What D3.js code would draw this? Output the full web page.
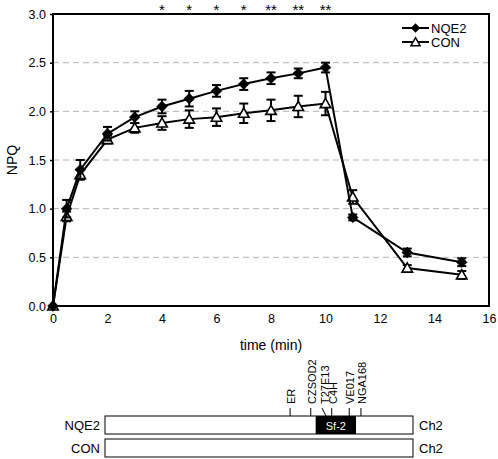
<!DOCTYPE html>
<html><head><meta charset="utf-8">
<script src="https://cdn.jsdelivr.net/npm/d3@7"></script>
<style>body{margin:0;background:#fff}svg{display:block;font-family:"Liberation Sans",Arial,sans-serif}</style>
</head><body><svg id="c" width="498" height="459"></svg>
<script>
const times = [0, 0.5, 1, 2, 3, 4, 5, 6, 7, 8, 9, 10, 11, 13, 15];
const nqe2 = [0, 1.00, 1.40, 1.77, 1.94, 2.05, 2.13, 2.21, 2.28, 2.34, 2.39, 2.45, 0.91, 0.55, 0.45];
const nqe2Err = [0, 0.09, 0.10, 0.07, 0.06, 0.07, 0.08, 0.06, 0.06, 0.06, 0.05, 0.05, 0.03, 0.04, 0.04];
const con = [0, 0.92, 1.35, 1.71, 1.83, 1.88, 1.92, 1.94, 1.98, 2.01, 2.05, 2.08, 1.12, 0.39, 0.32];
const conErr = [0, 0.05, 0.05, 0.04, 0.05, 0.07, 0.09, 0.09, 0.10, 0.11, 0.11, 0.12, 0.07, 0.03, 0.04];
const xTicks = [0, 2, 4, 6, 8, 10, 12, 14, 16];
const yTicks = [0, 0.5, 1.0, 1.5, 2.0, 2.5, 3.0];
const sigTimes = [4, 5, 6, 7, 8, 9, 10];
const sigLabels = ["*", "*", "*", "*", "**", "**", "**"];
const markerNames = ["ER", "CZSOD2", "T27E13", "C4H", "VE017", "NGA168"];
const markerPos = [0.601, 0.668, 0.711, 0.736, 0.793, 0.831]; // fraction along chromosome
const sfRegion = [0.684, 0.815];

const svg = d3.select("#c");
const L = 53, R = 489, T = 14, B = 306;
const x = d3.scaleLinear().domain([0, 16]).range([L, R]);
const y = d3.scaleLinear().domain([0, 3]).range([B, T]);

// gridlines
svg.append("g").selectAll("line").data(yTicks.filter(d => d > 0 && d < 3)).join("line")
  .attr("x1", L).attr("x2", R).attr("y1", d => y(d)).attr("y2", d => y(d))
  .attr("stroke", "#b4b4b4").attr("stroke-width", 1).attr("stroke-dasharray", "6,4");

// axes
const xa = svg.append("g").attr("transform", `translate(0,${B})`)
  .call(d3.axisBottom(x).tickValues(xTicks).tickFormat(d3.format("d")).tickSize(0).tickPadding(8));
const ya = svg.append("g").attr("transform", `translate(${L},0)`)
  .call(d3.axisLeft(y).tickValues(yTicks).tickFormat(d3.format(".1f")).tickSize(3).tickPadding(4));
[xa, ya].forEach(a => {
  a.select(".domain").remove();
  a.selectAll("text").attr("font-size", 12.5).attr("fill", "#000").attr("font-family", "Liberation Sans, Arial, sans-serif");
  a.selectAll("line").attr("stroke", "#000").attr("stroke-width", 1.5);
});
svg.append("rect").attr("x", L).attr("y", T).attr("width", R - L).attr("height", B - T)
  .attr("fill", "none").attr("stroke", "#000").attr("stroke-width", 2);

svg.append("text").attr("x", (L + R) / 2).attr("y", 350).attr("text-anchor", "middle")
  .attr("font-size", 14).text("time (min)");
svg.append("text").attr("transform", `translate(17,${(T + B) / 2}) rotate(-90)`).attr("text-anchor", "middle")
  .attr("font-size", 14).text("NPQ");

// significance stars
svg.append("g").selectAll("text").data(sigTimes).join("text")
  .attr("x", d => x(d)).attr("y", 15).attr("text-anchor", "middle")
  .attr("font-size", 15).text((d, i) => sigLabels[i]);

const line = d3.line().x(d => x(d[0])).y(d => y(d[1]));
function series(vals, errs, kind) {
  const pts = times.map((t, i) => [t, vals[i], errs[i]]);
  const g = svg.append("g");
  g.append("path").datum(pts).attr("d", line).attr("fill", "none").attr("stroke", "#000").attr("stroke-width", 2);
  const eb = g.selectAll(".eb").data(pts.filter(p => p[2] > 0)).join("g");
  eb.append("line").attr("x1", d => x(d[0])).attr("x2", d => x(d[0]))
    .attr("y1", d => y(d[1] - d[2])).attr("y2", d => y(d[1] + d[2])).attr("stroke", "#000").attr("stroke-width", 2);
  [-1, 1].forEach(s => eb.append("line").attr("x1", d => x(d[0]) - 4.5).attr("x2", d => x(d[0]) + 4.5)
    .attr("y1", d => y(d[1] + s * d[2])).attr("y2", d => y(d[1] + s * d[2])).attr("stroke", "#000").attr("stroke-width", 2));
  const sym = kind === "d" ? d3.symbol(d3.symbolDiamond2, 75) : d3.symbol(d3.symbolTriangle, 48);
  g.selectAll(".m").data(pts).join("path")
    .attr("transform", d => `translate(${x(d[0])},${y(d[1]) + (kind === "d" ? 0 : 1)})`).attr("d", sym)
    .attr("fill", kind === "d" ? "#000" : "#fff").attr("stroke", "#000").attr("stroke-width", kind === "d" ? 0.5 : 1.6);
}
series(con, conErr, "t");
series(nqe2, nqe2Err, "d");

// legend
const leg = [["NQE2", "d"], ["CON", "t"]];
leg.forEach((l, i) => {
  const yy = 28 + i * 14;
  svg.append("line").attr("x1", 402).attr("x2", 429).attr("y1", yy).attr("y2", yy).attr("stroke", "#000").attr("stroke-width", 2);
  svg.append("path").attr("transform", `translate(415.5,${yy + (l[1] === "d" ? 0 : 1)})`)
    .attr("d", l[1] === "d" ? d3.symbol(d3.symbolDiamond2, 50)() : d3.symbol(d3.symbolTriangle, 36)())
    .attr("fill", l[1] === "d" ? "#000" : "#fff").attr("stroke", "#000").attr("stroke-width", l[1] === "d" ? 0.5 : 1.5);
  svg.append("text").attr("x", 431).attr("y", yy + 5).attr("font-size", 13).text(l[0]);
});

// chromosome diagram
const cx = d3.scaleLinear().domain([0, 1]).range([105, 413]);
const rows = [["NQE2", 416], ["CON", 439]];
rows.forEach(r => {
  svg.append("rect").attr("x", cx(0)).attr("y", r[1]).attr("width", cx(1) - cx(0)).attr("height", 18)
    .attr("fill", "#fff").attr("stroke", "#000").attr("stroke-width", 1);
  svg.append("text").attr("x", 100).attr("y", r[1] + 14).attr("text-anchor", "end").attr("font-size", 13).text(r[0]);
  svg.append("text").attr("x", 419).attr("y", r[1] + 14).attr("font-size", 13).text("Ch2");
});
svg.append("rect").attr("x", cx(sfRegion[0])).attr("y", 416).attr("width", cx(sfRegion[1]) - cx(sfRegion[0])).attr("height", 18)
  .attr("fill", "#000");
svg.append("text").attr("x", (cx(sfRegion[0]) + cx(sfRegion[1])) / 2).attr("y", 429.5).attr("text-anchor", "middle")
  .attr("font-size", 11).attr("fill", "#fff").text("Sf-2");
const mk = svg.append("g").selectAll("g").data(markerNames).join("g");
mk.append("line").attr("x1", (d, i) => cx(markerPos[i]) - (d === "T27E13" ? 2 : 0))
  .attr("x2", (d, i) => cx(markerPos[i]) + (d === "T27E13" ? 2 : 0))
  .attr("y1", 408).attr("y2", 416).attr("stroke", "#000").attr("stroke-width", 1);
mk.append("text").attr("transform", (d, i) => `translate(${cx(markerPos[i]) + 5},404) rotate(-90)`)
  .attr("font-size", 11).text(d => d);
</script></body></html>
